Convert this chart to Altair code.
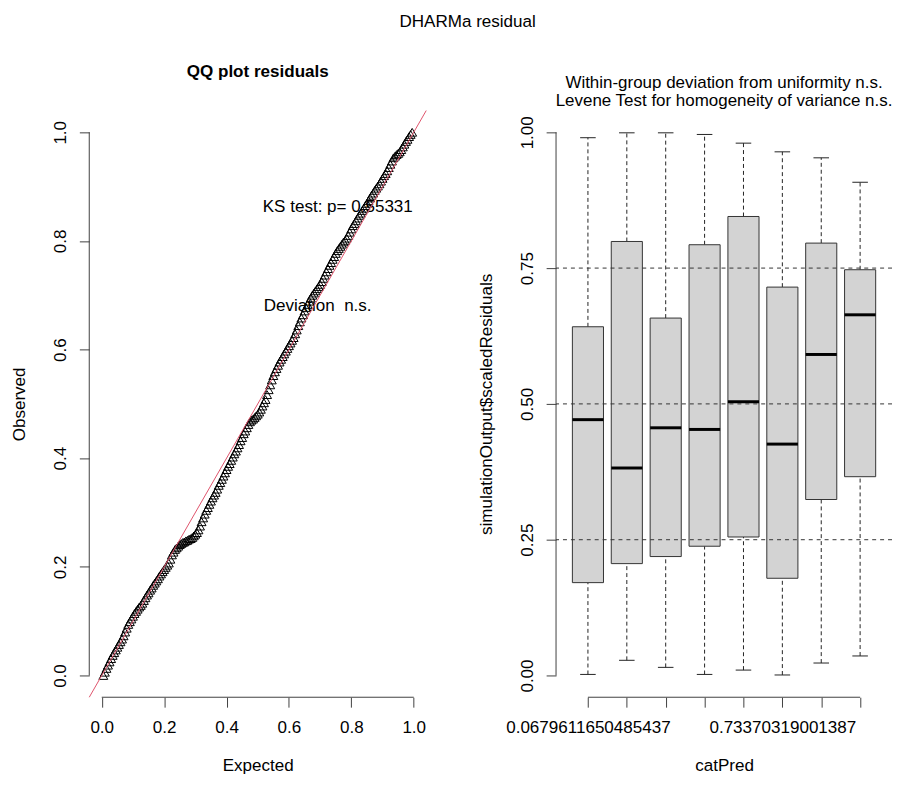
import altair as alt
import pandas as pd

FONT = "Liberation Sans"
AX = "#404040"
FS = 17.2

# ---------------- QQ plot data ----------------
qq_expected = [0.005, 0.010, 0.015, 0.020, 0.025, 0.030, 0.035, 0.040, 0.045, 0.050,
               0.055, 0.060, 0.065, 0.070, 0.075, 0.080, 0.085, 0.090, 0.095, 0.100,
               0.105, 0.110, 0.115, 0.120, 0.125, 0.130, 0.135, 0.140, 0.145, 0.150,
               0.155, 0.160, 0.165, 0.170, 0.175, 0.180, 0.185, 0.190, 0.195, 0.200,
               0.205, 0.210, 0.215, 0.220, 0.225, 0.230, 0.235, 0.240, 0.245, 0.250,
               0.255, 0.260, 0.265, 0.270, 0.275, 0.280, 0.285, 0.290, 0.295, 0.300,
               0.305, 0.310, 0.315, 0.320, 0.325, 0.330, 0.335, 0.340, 0.345, 0.350,
               0.355, 0.360, 0.365, 0.370, 0.375, 0.380, 0.385, 0.390, 0.395, 0.400,
               0.405, 0.410, 0.415, 0.420, 0.425, 0.430, 0.435, 0.440, 0.445, 0.450,
               0.455, 0.460, 0.465, 0.470, 0.475, 0.480, 0.485, 0.490, 0.495, 0.500,
               0.505, 0.510, 0.515, 0.520, 0.525, 0.530, 0.535, 0.540, 0.545, 0.550,
               0.555, 0.560, 0.565, 0.570, 0.575, 0.580, 0.585, 0.590, 0.595, 0.600,
               0.605, 0.610, 0.615, 0.620, 0.625, 0.630, 0.635, 0.640, 0.645, 0.650,
               0.655, 0.660, 0.665, 0.670, 0.675, 0.680, 0.685, 0.690, 0.695, 0.700,
               0.705, 0.710, 0.715, 0.720, 0.725, 0.730, 0.735, 0.740, 0.745, 0.750,
               0.755, 0.760, 0.765, 0.770, 0.775, 0.780, 0.785, 0.790, 0.795, 0.800,
               0.805, 0.810, 0.815, 0.820, 0.825, 0.830, 0.835, 0.840, 0.845, 0.850,
               0.855, 0.860, 0.865, 0.870, 0.875, 0.880, 0.885, 0.890, 0.895, 0.900,
               0.905, 0.910, 0.915, 0.920, 0.925, 0.930, 0.935, 0.940, 0.945, 0.950,
               0.955, 0.960, 0.965, 0.970, 0.975, 0.980, 0.985, 0.990, 0.995]
qq_observed = [0.000, 0.006, 0.013, 0.019, 0.025, 0.031, 0.037, 0.042, 0.047, 0.052,
               0.057, 0.062, 0.067, 0.073, 0.080, 0.087, 0.094, 0.099, 0.104, 0.109,
               0.114, 0.118, 0.122, 0.126, 0.129, 0.133, 0.138, 0.143, 0.148, 0.152,
               0.157, 0.161, 0.166, 0.170, 0.174, 0.178, 0.183, 0.187, 0.191, 0.195,
               0.199, 0.203, 0.207, 0.214, 0.222, 0.227, 0.232, 0.235, 0.238, 0.241,
               0.243, 0.245, 0.246, 0.248, 0.249, 0.251, 0.252, 0.254, 0.257, 0.260,
               0.263, 0.268, 0.275, 0.283, 0.290, 0.297, 0.304, 0.309, 0.315, 0.321,
               0.327, 0.332, 0.337, 0.343, 0.350, 0.355, 0.361, 0.367, 0.373, 0.379,
               0.385, 0.390, 0.396, 0.402, 0.408, 0.413, 0.419, 0.425, 0.432, 0.438,
               0.445, 0.450, 0.456, 0.462, 0.467, 0.470, 0.472, 0.475, 0.478, 0.481,
               0.485, 0.490, 0.496, 0.502, 0.508, 0.517, 0.526, 0.535, 0.544, 0.552,
               0.559, 0.565, 0.571, 0.577, 0.582, 0.587, 0.592, 0.597, 0.602, 0.607,
               0.612, 0.617, 0.622, 0.629, 0.636, 0.644, 0.651, 0.658, 0.664, 0.671,
               0.677, 0.683, 0.689, 0.695, 0.700, 0.704, 0.708, 0.712, 0.716, 0.720,
               0.725, 0.731, 0.737, 0.743, 0.749, 0.755, 0.760, 0.766, 0.771, 0.777,
               0.782, 0.786, 0.790, 0.794, 0.798, 0.801, 0.805, 0.810, 0.816, 0.822,
               0.828, 0.832, 0.837, 0.842, 0.847, 0.851, 0.856, 0.860, 0.865, 0.869,
               0.874, 0.879, 0.884, 0.888, 0.893, 0.897, 0.901, 0.905, 0.910, 0.915,
               0.920, 0.924, 0.929, 0.935, 0.941, 0.947, 0.953, 0.956, 0.959, 0.961,
               0.964, 0.968, 0.973, 0.978, 0.983, 0.987, 0.992, 0.996, 1.000]
diag_line = [-0.04, 1.04]
qq_ticks = [0.0, 0.2, 0.4, 0.6, 0.8, 1.0]
qq_notes = ["KS test: p= 0.55331", "Deviation\u00a0 n.s."]
qq_note_x = [0.516, 0.519]
qq_note_y = [0.862, 0.681]

# ---------------- Boxplot data ----------------
groups = [1, 2, 3, 4, 5, 6, 7, 8]
cat_labels = ["0.0679611650485437", "", "", "", "", "0.73370319001387", "", ""]
whisk_lo = [0.002, 0.028, 0.015, 0.002, 0.010, 0.001, 0.023, 0.036]
q1 = [0.171, 0.206, 0.219, 0.238, 0.255, 0.179, 0.324, 0.366]
med = [0.471, 0.382, 0.456, 0.453, 0.504, 0.426, 0.591, 0.664]
q3 = [0.642, 0.799, 0.658, 0.793, 0.845, 0.715, 0.796, 0.747]
whisk_hi = [0.990, 0.999, 0.999, 0.996, 0.980, 0.964, 0.953, 0.908]
ref_lines = [0.25, 0.50, 0.75]
box_ticks = [0.0, 0.25, 0.5, 0.75, 1.0]

# ---------------- shared styling ----------------
ax_common = dict(domain=False, grid=False, ticks=True, tickSize=10, tickColor=AX,
                 tickWidth=1, labelFont=FONT, labelFontSize=FS, labelColor="black",
                 titleFont=FONT, titleFontSize=FS, titleFontWeight="normal",
                 titleColor="black", labelFlush=False, labelOverlap=False,
                 labelBound=False)

W_L, W_R, H = 340, 339, 592


def x_axis(title, values, width, fmt=None, expr=None):
    kw = dict(ax_common, title=title, values=values, labelAngle=0,
              labelAlign="center", labelBaseline="alphabetic", labelPadding=26,
              titleX=width / 2, titleY=69, titleAlign="center",
              titleBaseline="middle", titleAngle=0)
    if fmt:
        kw["format"] = fmt
    if expr:
        kw["labelExpr"] = expr
    return alt.Axis(**kw)


def y_axis(title, values, fmt):
    return alt.Axis(**dict(ax_common, title=title, values=values, format=fmt,
                           labelAngle=270, labelAlign="center",
                           labelBaseline="alphabetic", labelPadding=14,
                           titleX=-70, titleY=H / 2, titleAngle=270,
                           titleAlign="center", titleBaseline="middle"))


# ---------------- left panel: QQ plot ----------------
xs_l = alt.Scale(domain=[-0.04, 1.04], nice=False, zero=False)
ys = alt.Scale(domain=[-0.04, 1.04], nice=False, zero=False)
xa_l = x_axis("Expected", qq_ticks, W_L, fmt=".1f")
ya_l = y_axis("Observed", qq_ticks, ".1f")

qq_df = pd.DataFrame({"Expected": qq_expected, "Observed": qq_observed})
notes_df = pd.DataFrame({"t": qq_notes, "x": qq_note_x, "y": qq_note_y})
diag_df = pd.DataFrame({"x": diag_line, "y": diag_line})
l_axlines = pd.DataFrame({"x": [diag_line[0], qq_ticks[0]],
                          "x2": [diag_line[0], qq_ticks[-1]],
                          "y": [qq_ticks[0], diag_line[0]],
                          "y2": [qq_ticks[-1], diag_line[0]]})

notes = alt.Chart(notes_df).mark_text(align="left", baseline="middle", font=FONT,
                                      fontSize=FS, color="black").encode(
    x=alt.X("x:Q", scale=xs_l, axis=xa_l), y=alt.Y("y:Q", scale=ys, axis=ya_l),
    text="t:N")
pts = alt.Chart(qq_df).mark_point(shape="triangle-up", filled=False, size=81,
                                  stroke="black", strokeWidth=1, opacity=1).encode(
    x=alt.X("Expected:Q", scale=xs_l, axis=xa_l),
    y=alt.Y("Observed:Q", scale=ys, axis=ya_l))
diag = alt.Chart(diag_df).mark_line(color="#DF536B", strokeWidth=1).encode(
    x=alt.X("x:Q", scale=xs_l, axis=xa_l), y=alt.Y("y:Q", scale=ys, axis=ya_l))
l_lines = alt.Chart(l_axlines).mark_rule(color=AX, strokeWidth=1).encode(
    x=alt.X("x:Q", scale=xs_l, axis=xa_l), x2="x2:Q",
    y=alt.Y("y:Q", scale=ys, axis=ya_l), y2="y2:Q")

left = alt.layer(notes, pts, diag, l_lines).properties(
    width=W_L, height=H,
    title=alt.TitleParams("QQ plot residuals", font=FONT, fontSize=FS,
                          fontWeight="bold", color="black", anchor="middle",
                          offset=29))

# ---------------- right panel: boxplot ----------------
xs_r = alt.Scale(domain=[0.18, 8.82], nice=False, zero=False)
label_expr = " : ".join(
    [f"datum.value == {g} ? '{lab}'" for g, lab in zip(groups, cat_labels) if lab]
) + " : ''"
xa_r = x_axis("catPred", groups, W_R, expr=label_expr)
ya_r = y_axis("simulationOutput$scaledResiduals", box_ticks, ".2f")

box_df = pd.DataFrame({"g": groups, "lo": whisk_lo, "q1": q1, "med": med,
                       "q3": q3, "hi": whisk_hi})
base = alt.Chart(box_df).transform_calculate(
    xl="datum.g - 0.4", xr="datum.g + 0.4",
    cl="datum.g - 0.2", cr="datum.g + 0.2")

X = lambda f: alt.X(f, scale=xs_r, axis=xa_r)
Y = lambda f: alt.Y(f, scale=ys, axis=ya_r)

wl = base.mark_rule(strokeDash=[4, 3], color="#222", strokeWidth=1).encode(
    x=X("g:Q"), y=Y("lo:Q"), y2="q1:Q")
wh = base.mark_rule(strokeDash=[4, 3], color="#222", strokeWidth=1).encode(
    x=X("g:Q"), y=Y("q3:Q"), y2="hi:Q")
cap_lo = base.mark_rule(color="#222", strokeWidth=1).encode(
    x=X("cl:Q"), x2="cr:Q", y=Y("lo:Q"))
cap_hi = base.mark_rule(color="#222", strokeWidth=1).encode(
    x=X("cl:Q"), x2="cr:Q", y=Y("hi:Q"))
boxes = base.mark_rect(fill="#D3D3D3", stroke="#333", strokeWidth=1).encode(
    x=X("xl:Q"), x2="xr:Q", y=Y("q1:Q"), y2="q3:Q")
meds = base.mark_rule(color="black", strokeWidth=3).encode(
    x=X("xl:Q"), x2="xr:Q", y=Y("med:Q"))
hl = alt.Chart(pd.DataFrame({"h": ref_lines})).mark_rule(
    strokeDash=[4, 4], color="#333", strokeWidth=1).encode(y=Y("h:Q"))
r_axlines = pd.DataFrame({"x": [0.18, groups[0]], "x2": [0.18, groups[-1]],
                          "y": [box_ticks[0], diag_line[0]],
                          "y2": [box_ticks[-1], diag_line[0]]})
r_lines = alt.Chart(r_axlines).mark_rule(color=AX, strokeWidth=1).encode(
    x=X("x:Q"), x2="x2:Q", y=Y("y:Q"), y2="y2:Q")

right = alt.layer(wl, wh, cap_lo, cap_hi, boxes, meds, hl, r_lines).properties(
    width=W_R, height=H,
    title=alt.TitleParams(["Within-group deviation from uniformity n.s.",
                           "Levene Test for homogeneity of variance n.s."],
                          font=FONT, fontSize=17.1, fontWeight="normal",
                          color="black", anchor="middle", offset=1,
                          lineHeight=19))

chart = alt.hconcat(left, right, spacing=50).properties(
    title=alt.TitleParams("DHARMa residual", font=FONT, fontSize=FS,
                          fontWeight="normal", color="black", anchor="middle",
                          offset=33, dx=16),
    padding={"left": 3, "top": 1, "right": 0, "bottom": 0},
).configure_view(stroke=None)

chart.save("out.html", embed_options={"renderer": "svg", "actions": False})
